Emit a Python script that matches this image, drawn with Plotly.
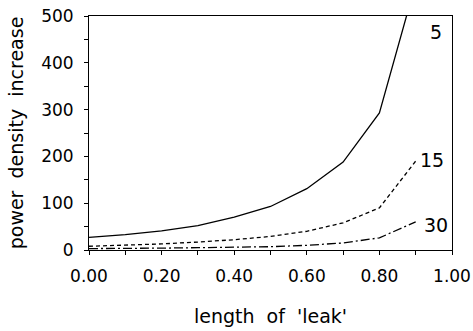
import plotly.graph_objects as go

x_vals = [0.0, 0.1, 0.2, 0.3, 0.4, 0.5, 0.6, 0.7, 0.8, 0.9]
s5 = [27, 33, 41, 52, 70, 93, 131, 188, 293, 570]
s15 = [8, 10, 13, 17, 22, 29, 40, 58, 90, 190]
s30 = [3, 3, 4, 5, 6, 7, 10, 15, 26, 60]
series_names = ["5", "15", "30"]
label_pos = [(0.955, 466), (0.945, 192), (0.955, 54)]
x_tickvals = [0.0, 0.2, 0.4, 0.6, 0.8, 1.0]
x_ticktext = ["0.00", "0.20", "0.40", "0.60", "0.80", "1.00"]
y_tickvals = [0, 100, 200, 300, 400, 500]

FONT = "DejaVu Sans"
fig = go.Figure()
styles = [dict(color="black", width=1.3, dash="solid"),
          dict(color="black", width=1.3, dash="4px,3px"),
          dict(color="black", width=1.3, dash="9px,3px,2px,3px")]
for ys, name, st in zip([s5, s15, s30], series_names, styles):
    fig.add_trace(go.Scatter(x=x_vals, y=ys, mode="lines", name=name,
                             line=st, showlegend=False, cliponaxis=True,
                             hoverinfo="skip"))

for name, (lx, ly) in zip(series_names, label_pos):
    fig.add_annotation(x=lx, y=ly, text=name, showarrow=False,
                       font=dict(family=FONT, size=19, color="black"),
                       xanchor="center", yanchor="middle")

axis_common = dict(showline=True, linecolor="black", linewidth=1, mirror=True,
                   ticks="outside", ticklen=4, tickcolor="black", showgrid=False,
                   zeroline=False, automargin=False,
                   tickfont=dict(family=FONT, size=17, color="black"))
fig.update_xaxes(range=[0, 1], tickvals=x_tickvals, ticktext=x_ticktext,
                 ticklabelstandoff=7,
                 minor=dict(dtick=0.1, ticks="outside", ticklen=4, tickcolor="black"),
                 title=dict(text="length\u00a0\u00a0of\u00a0\u00a0'leak'",
                            font=dict(family=FONT, size=19, color="black"), standoff=24),
                 **axis_common)
fig.update_yaxes(range=[0, 500], tickvals=y_tickvals,
                 ticklabelstandoff=7,
                 minor=dict(dtick=50, ticks="outside", ticklen=4, tickcolor="black"),
                 title=dict(text="power\u00a0\u00a0density\u00a0\u00a0increase",
                            font=dict(family=FONT, size=19, color="black"), standoff=12),
                 **axis_common)
fig.update_layout(width=473, height=331, margin=dict(l=89, r=21, t=16, b=81),
                  plot_bgcolor="white", paper_bgcolor="white")
fig.write_html("out.html", config={"displayModeBar": False, "staticPlot": True},
               post_script="document.body.style.margin='0';document.body.style.overflow='hidden';")
